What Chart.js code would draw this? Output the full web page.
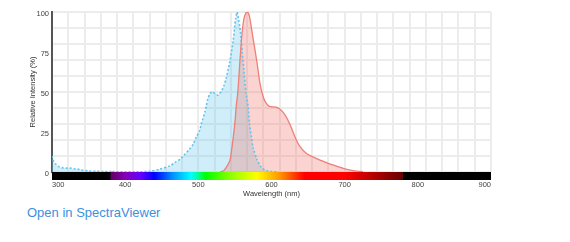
<!DOCTYPE html>
<html>
<head>
<meta charset="utf-8">
<script src="https://cdn.jsdelivr.net/npm/chart.js@4/dist/chart.umd.min.js"></script>
<style>
    body { margin: 0; background: #fff; font-family: "Liberation Sans", Arial, sans-serif; }
    #wrap { position: relative; width: 570px; height: 242px; }
    #spectra { position: absolute; left: 0; top: 0; }
    .viewer-link { position: absolute; left: 27px; top: 206px; font-size: 13px; line-height: 13px; color: #3d8fe0; text-decoration: none; }
</style>
</head>
<body>
<div id="wrap">
    <canvas id="spectra" width="570" height="200"></canvas>
    <a class="viewer-link" href="#">Open in SpectraViewer</a>
</div>
<script>
// Excitation spectrum (dotted blue)
const exWavelength = [300, 302, 305, 310, 315, 320, 325, 330, 335, 340, 350, 360, 370, 380, 382, 384, 400, 420, 434, 447, 461, 468, 475, 481, 488, 493, 497, 502, 504, 506, 509, 511, 513, 515.5, 518, 520, 524.5, 527, 529, 531.5, 535, 538, 543, 547.5, 551, 553, 554, 557.5, 560, 562.5, 565, 568, 570, 572.5, 575, 580, 585, 590, 595, 600, 610];
const exIntensity = [10, 7, 5, 3.2, 2.6, 2.4, 2.4, 2, 1.8, 1.2, 0.7, 0.5, 0.3, 0.3, 1, 0.2, 0.1, 0.1, 0.5, 1.7, 3.8, 5.9, 8, 10.7, 14.3, 17.4, 21.6, 26.2, 30, 33, 37.4, 41.6, 45.8, 48.5, 50, 50, 48.5, 48, 49, 50.5, 54, 58.4, 69, 81.5, 96, 100, 98, 88, 75, 62.6, 50, 41, 30, 22, 15, 8, 3.5, 1.5, 0.6, 0.3, 0];

// Emission spectrum (solid red)
const emWavelength = [530, 535, 538, 543, 545, 547.5, 550, 552, 554, 556.5, 559, 562, 565, 567.5, 570, 575, 580, 584, 588, 592, 597, 606, 611, 618, 625, 632, 638, 648, 661, 675, 684, 698, 710, 725];
const emIntensity = [0, 1, 2.7, 7, 12, 21, 31, 42, 50, 67, 83, 95, 99.5, 100, 97, 83, 69, 56, 48, 43.5, 41, 40.5, 39.5, 36, 30, 22, 16.5, 11.5, 8.5, 5.9, 4.4, 2.3, 1, 0.2];

const xTicks = [300, 400, 500, 600, 700, 800, 900];
const yTicks = [0, 25, 50, 75, 100];

// visible spectrum colours for the strip under the plot
const spectrumStops = [
    [300, '#000000'], [379.9, '#000000'], [380, '#610061'], [400, '#8300b5'], [420, '#6a00ff'],
    [440, '#0000ff'], [465, '#0092ff'], [490, '#00ffff'], [500, '#00ff92'], [510, '#00ff00'],
    [545, '#92ff00'], [580, '#ffff00'], [612, '#ff9200'], [645, '#ff0000'], [700, '#ff0000'],
    [740, '#b50000'], [780, '#610000'], [780.1, '#000000'], [900, '#000000']
];

const tickFont = { family: '"Liberation Sans", Arial, sans-serif', size: 7.5 };
const gridColor = '#ececec';

const spectrumBar = {
    id: 'spectrumBar',
    afterDraw(chart) {
        const ctx = chart.ctx;
        const area = chart.chartArea;
        const xs = chart.scales.x;
        const grad = ctx.createLinearGradient(area.left, 0, area.right, 0);
        spectrumStops.forEach(s => {
            const pos = (xs.getPixelForValue(s[0]) - area.left) / (area.right - area.left);
            grad.addColorStop(Math.min(1, Math.max(0, pos)), s[1]);
        });
        ctx.save();
        ctx.fillStyle = grad;
        ctx.fillRect(area.left, area.bottom, area.right - area.left, 8);
        ctx.restore();
    }
};

const ctx = document.getElementById('spectra').getContext('2d');
new Chart(ctx, {
    type: 'line',
    data: {
        datasets: [
            {
                label: 'Emission',
                data: emWavelength.map((w, i) => ({ x: w, y: emIntensity[i] })),
                borderColor: '#ee7f78',
                backgroundColor: 'rgba(242, 112, 102, 0.3)',
                borderWidth: 1.3,
                pointRadius: 0,
                tension: 0.25,
                fill: 'origin'
            },
            {
                label: 'Excitation',
                data: exWavelength.map((w, i) => ({ x: w, y: exIntensity[i] })),
                borderColor: '#62c3ec',
                backgroundColor: 'rgba(120, 205, 240, 0.35)',
                borderWidth: 1.6,
                borderDash: [2, 2],
                pointRadius: 0,
                tension: 0.25,
                fill: 'origin'
            }
        ]
    },
    options: {
        responsive: false,
        animation: false,
        layout: { padding: { left: 0, right: 79, top: 12, bottom: 0 } },
        plugins: {
            legend: { display: false },
            tooltip: { enabled: false },
            filler: { drawTime: 'beforeDatasetsDraw' }
        },
        scales: {
            x: {
                type: 'linear',
                min: 300,
                max: 900,
                afterBuildTicks: s => { s.ticks = xTicks.map(v => ({ value: v })); },
                afterFit: s => { s.height = 28; },
                grid: { display: false, drawTicks: true, tickLength: 8 },
                border: { display: false },
                ticks: { align: 'inner', padding: 0, maxRotation: 0, color: '#444', font: tickFont },
                title: { display: true, text: 'Wavelength (nm)', color: '#333', font: tickFont, padding: { top: 0, bottom: 1.5 } }
            },
            y: {
                min: 0,
                max: 100,
                afterBuildTicks: s => { s.ticks = yTicks.map(v => ({ value: v })); },
                afterFit: s => { s.width = 52; },
                grid: { display: false, drawTicks: false },
                border: { display: true, color: '#555', width: 2 },
                ticks: { padding: 3, labelOffset: 2, color: '#444', font: tickFont },
                title: { display: true, text: 'Relative Intensity (%)', color: '#333', font: tickFont, padding: { top: 28, bottom: 0 } }
            },
            gridX: {
                type: 'linear',
                position: 'top',
                min: 0,
                max: 27,
                ticks: { display: false, stepSize: 1 },
                grid: { drawTicks: false, color: gridColor, lineWidth: 2 },
                border: { display: false }
            },
            gridY: {
                type: 'linear',
                position: 'right',
                min: 0,
                max: 10,
                ticks: { display: false, stepSize: 1 },
                grid: { drawTicks: false, color: gridColor, lineWidth: 2 },
                border: { display: false }
            }
        }
    },
    plugins: [spectrumBar]
});
</script>
</body>
</html>
